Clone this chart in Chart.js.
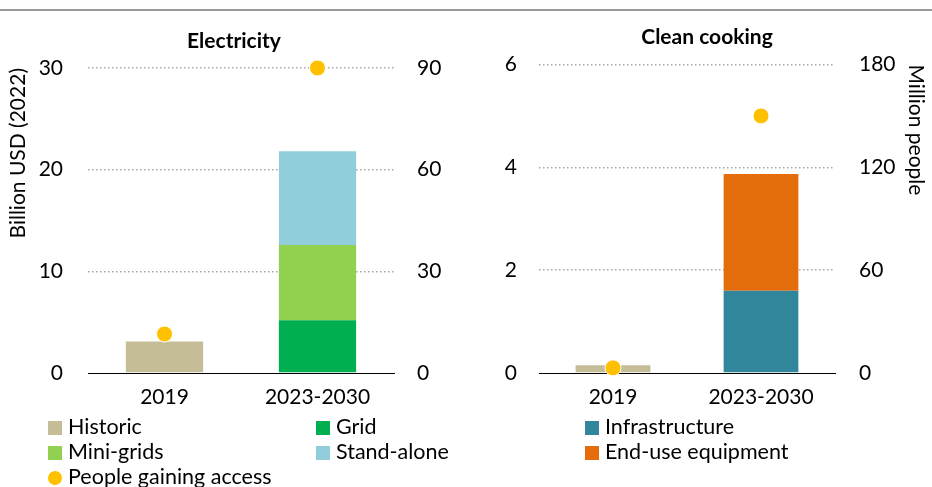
<!doctype html>
<html lang="en">

<head>
    <meta charset="utf-8">
    <title>Access investment</title>
    <style>
        * {
            margin: 0;
            padding: 0;
            font-family: Lato, sans-serif;
        }

        body {
            width: 932px;
            height: 487px;
            background: white;
            position: relative;
            overflow: hidden;
        }

        .topLine {
            position: absolute;
            left: 0;
            top: 9px;
            width: 932px;
            height: 2px;
            background: #999;
        }

        .panel {
            position: absolute;
            top: 0;
            width: 466px;
            height: 487px;
        }

        .panelTitle {
            position: absolute;
            font-weight: bold;
            font-size: 21px;
            color: #000;
            transform: translate(-50%, -50%);
            white-space: nowrap;
        }

        .legendItem {
            position: absolute;
            font-size: 21.5px;
            color: #000;
            line-height: 22px;
            white-space: nowrap;
            transform: translateY(-50%);
        }

        .legendItem span.box {
            display: inline-block;
            width: 14px;
            height: 14px;
            margin-right: 6px;
            vertical-align: -1px;
        }

        .legendItem span.dot {
            border-radius: 50%;
        }
    </style>
</head>

<body>
    <div class="topLine"></div>
    <div class="panel" style="left:0"><canvas id="elecChart"></canvas></div>
    <div class="panel" style="left:466px"><canvas id="cookChart"></canvas></div>
    <div class="panelTitle" style="left:234px;top:39px">Electricity</div>
    <div class="panelTitle" style="left:707px;top:35px">Clean cooking</div>
    <div id="legend"></div>

    <script src="https://cdn.jsdelivr.net/npm/chart.js/dist/chart.umd.min.js"></script>
    <script>
        // data
        const periods = ['2019', '2023-2030'];

        const elecHistoric = [3.1, null];
        const elecGrid = [null, 5.2];
        const elecMiniGrids = [null, 7.4];
        const elecStandAlone = [null, 9.2];
        const elecPeople = [11.5, 90];

        const cookHistoric = [0.15, null];
        const cookInfrastructure = [null, 1.6];
        const cookEndUse = [null, 2.27];
        const cookPeople = [3, 150];

        const elecTicks = [0, 10, 20, 30];
        const elecPeopleTicks = [0, 30, 60, 90];
        const cookTicks = [0, 2, 4, 6];
        const cookPeopleTicks = [0, 60, 120, 180];

        const colors = {
            historic: '#C4BD97',
            grid: '#00B050',
            miniGrids: '#92D050',
            standAlone: '#92CDDC',
            infrastructure: '#31869B',
            endUse: '#E46C0A',
            people: '#FFC000'
        };

        Chart.defaults.font.family = 'Lato, sans-serif';
        Chart.defaults.color = '#000';

        function barSet(label, data, color) {
            return {
                type: 'bar',
                label,
                data,
                backgroundColor: color,
                stack: 'cost',
                order: 1,
                categoryPercentage: 1,
                barPercentage: 0.505,
                skipNull: true
            };
        }

        function peopleSet(data) {
            return {
                type: 'line',
                label: 'People gaining access',
                data,
                yAxisID: 'y2',
                showLine: false,
                pointRadius: 8,
                pointBorderWidth: 1,
                pointBorderColor: '#fff',
                pointBackgroundColor: colors.people,
                order: 0,
                clip: false
            };
        }

        function makeChart(id, datasets, opt) {
            const canvas = document.getElementById(id);
            canvas.width = 466;
            canvas.height = 487;
            return new Chart(canvas, {
                data: { labels: periods, datasets },
                options: {
                    responsive: false,
                    animation: false,
                    layout: { padding: { top: opt.top, bottom: 74, left: 0, right: 0 } },
                    plugins: { legend: { display: false }, tooltip: { enabled: false } },
                    scales: {
                        x: {
                            stacked: true,
                            grid: { display: false },
                            border: { display: true, color: '#000', width: 1 },
                            ticks: { font: { size: 21 }, padding: 4 },
                            afterFit(s) { s.height = 40; }
                        },
                        y: {
                            stacked: true,
                            position: 'left',
                            min: 0,
                            max: opt.ticks[opt.ticks.length - 1],
                            afterBuildTicks(s) { s.ticks = opt.ticks.map(v => ({ value: v })); },
                            grid: {
                                drawTicks: false,
                                color: c => c.tick.value === 0 ? 'rgba(0,0,0,0)' : '#A6A6A6',
                                lineWidth: 1.5
                            },
                            border: { display: false, dash: [1.5, 2.5] },
                            ticks: { font: { size: 21 }, padding: opt.leftPad },
                            title: {
                                display: !!opt.leftTitle,
                                text: opt.leftTitle,
                                align: 'end',
                                font: { size: 21 },
                                padding: { top: 6 }
                            },
                            afterFit(s) { s.width = opt.leftWidth; }
                        },
                        y2: {
                            position: 'right',
                            min: 0,
                            max: opt.peopleTicks[opt.peopleTicks.length - 1],
                            afterBuildTicks(s) { s.ticks = opt.peopleTicks.map(v => ({ value: v })); },
                            grid: { display: false, drawTicks: false },
                            border: { display: false },
                            ticks: { font: { size: 21 }, padding: opt.rightPad },
                            title: {
                                display: !!opt.rightTitle,
                                text: opt.rightTitle,
                                align: 'end',
                                font: { size: 21 },
                                padding: { top: 4 }
                            },
                            afterFit(s) { s.width = opt.rightWidth; }
                        }
                    }
                }
            });
        }

        makeChart('elecChart', [
            barSet('Historic', elecHistoric, colors.historic),
            barSet('Grid', elecGrid, colors.grid),
            barSet('Mini-grids', elecMiniGrids, colors.miniGrids),
            barSet('Stand-alone', elecStandAlone, colors.standAlone),
            peopleSet(elecPeople)
        ], {
            top: 68, ticks: elecTicks, peopleTicks: elecPeopleTicks,
            leftWidth: 88, rightWidth: 72, leftPad: 25, rightPad: 23,
            leftTitle: 'Billion USD (2022)'
        });

        makeChart('cookChart', [
            barSet('Historic', cookHistoric, colors.historic),
            barSet('Infrastructure', cookInfrastructure, colors.infrastructure),
            barSet('End-use equipment', cookEndUse, colors.endUse),
            peopleSet(cookPeople)
        ], {
            top: 64.5, ticks: cookTicks, peopleTicks: cookPeopleTicks,
            leftWidth: 73, rightWidth: 97, leftPad: 22, rightPad: 24,
            rightTitle: 'Million people'
        });

        // legend (html)
        const legendItems = [
            ['Historic', colors.historic, 48, 426, false],
            ['Grid', colors.grid, 316, 426, false],
            ['Infrastructure', colors.infrastructure, 585, 426, false],
            ['Mini-grids', colors.miniGrids, 48, 451, false],
            ['Stand-alone', colors.standAlone, 316, 451, false],
            ['End-use equipment', colors.endUse, 585, 451, false],
            ['People gaining access', colors.people, 48, 476, true]
        ];
        const legend = document.getElementById('legend');
        legendItems.forEach(([text, color, x, y, dot]) => {
            const el = document.createElement('div');
            el.className = 'legendItem';
            el.style.left = x + 'px';
            el.style.top = y + 'px';
            el.innerHTML = `<span class="box${dot ? ' dot' : ''}" style="background:${color}"></span>${text}`;
            legend.appendChild(el);
        });
    </script>
</body>

</html>
